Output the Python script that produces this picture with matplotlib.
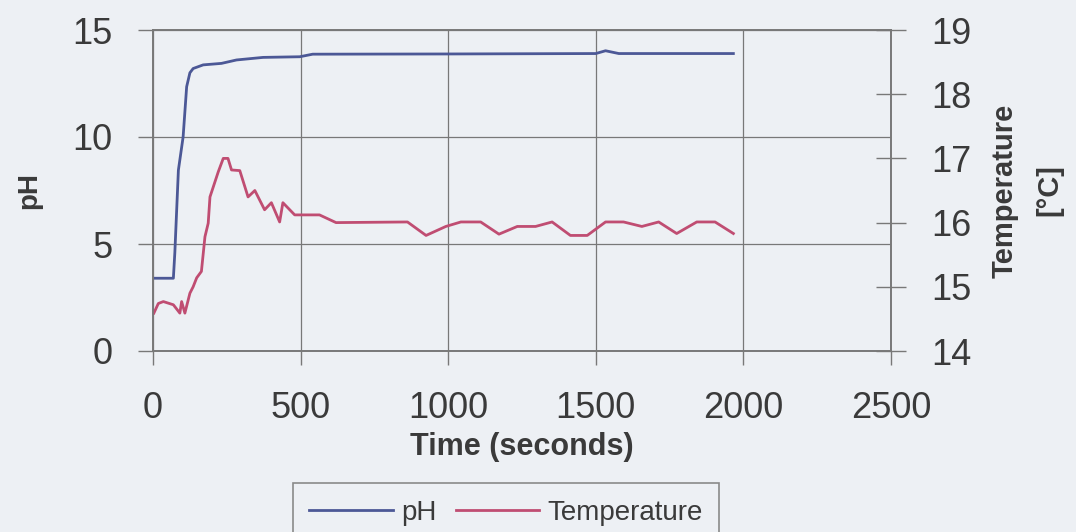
import matplotlib
matplotlib.use("Agg")
import matplotlib.pyplot as plt

# pH readings over time
ph_time = [0, 69, 74, 86, 102, 114, 125, 136, 170, 232, 283, 373, 497, 541,
           1000, 1500, 1533, 1578, 1966]
ph_vals = [3.40, 3.40, 4.6, 8.45, 10.0, 12.35, 13.0, 13.2, 13.37, 13.44, 13.6,
           13.72, 13.75, 13.87, 13.88, 13.9, 14.03, 13.9, 13.9]

# Temperature readings over time
temp_time = [3, 18, 35, 69, 91, 97, 108, 125, 136, 148, 164, 176, 187, 193,
             221, 238, 254, 266, 294, 322, 345, 378, 401, 429, 440, 480, 564,
             620, 862, 925, 992, 1043, 1110, 1172, 1234, 1296, 1352, 1414,
             1471, 1533, 1594, 1656, 1713, 1774, 1842, 1904, 1966]
temp_vals = [14.59, 14.74, 14.77, 14.72, 14.59, 14.77, 14.59, 14.90, 15.00,
             15.14, 15.24, 15.78, 15.99, 16.40, 16.79, 17.00, 17.00, 16.82,
             16.81, 16.40, 16.50, 16.20, 16.31, 16.01, 16.31, 16.12, 16.12,
             16.00, 16.01, 15.80, 15.94, 16.01, 16.01, 15.82, 15.94, 15.94,
             16.01, 15.80, 15.80, 16.01, 16.01, 15.94, 16.01, 15.83, 16.01,
             16.01, 15.83]

x_ticks = [0, 500, 1000, 1500, 2000, 2500]
ph_ticks = [0, 5, 10, 15]
temp_ticks = [14, 15, 16, 17, 18, 19]

bg = "#edf0f4"
txt = "#3a3a3a"
grid_c = "#787878"
ph_color = "#4c5896"
temp_color = "#c04d72"
font = "Liberation Sans"

plt.rcParams["font.family"] = [font, "DejaVu Sans"]

fig = plt.figure(figsize=(10.76, 5.32), dpi=100, facecolor=bg)
ax = fig.add_axes([153 / 1076, 1 - 351 / 532, (891 - 153) / 1076, (351 - 30) / 532])
ax.set_facecolor(bg)
ax2 = ax.twinx()

l1, = ax.plot(ph_time, ph_vals, color=ph_color, lw=2.0, label="pH")
l2, = ax2.plot(temp_time, temp_vals, color=temp_color, lw=2.0, label="Temperature")

ax.set_xlim(0, 2500)
ax.set_ylim(0, 15)
ax2.set_ylim(14, 19)
ax.set_xticks(x_ticks)
ax.set_yticks(ph_ticks)
ax2.set_yticks(temp_ticks)

ax.grid(True, color=grid_c, lw=0.9)
ax.set_axisbelow(True)

for a in (ax, ax2):
    for s in a.spines.values():
        s.set_color(grid_c)
        s.set_linewidth(1.2)

ax.tick_params(axis="y", direction="out", length=11, width=1.0, color=grid_c,
               labelsize=26, labelcolor=txt, pad=18)
ax.tick_params(axis="x", direction="out", length=10, width=1.0, color=grid_c,
               labelsize=26, labelcolor=txt, pad=19)
ax2.tick_params(axis="y", direction="inout", length=22, width=1.0, color=grid_c,
                labelsize=26, labelcolor=txt, pad=18)

ax.set_xlabel("Time (seconds)", fontsize=22, fontweight="bold", color=txt, labelpad=4)
ax.set_ylabel("pH", fontsize=20, fontweight="bold", color=txt, labelpad=22)
ax2.set_ylabel("Temperature\n[°C]", fontsize=21, fontweight="bold", color=txt,
               labelpad=14, ha="center", linespacing=1.75)

leg = fig.legend(handles=[l1, l2], loc="upper center",
                 bbox_to_anchor=(506 / 1076, 1 - 483 / 532), ncol=2,
                 frameon=True, fancybox=False, edgecolor="#8a8a8a", facecolor=bg,
                 fontsize=20, handlelength=3.0, columnspacing=0.7,
                 handletextpad=0.3, borderpad=0.6, borderaxespad=0,
                 labelcolor=txt)
leg.get_frame().set_linewidth(1.2)
leg.get_frame().set_alpha(1)

fig.savefig("out.png", dpi=100, facecolor=bg)
